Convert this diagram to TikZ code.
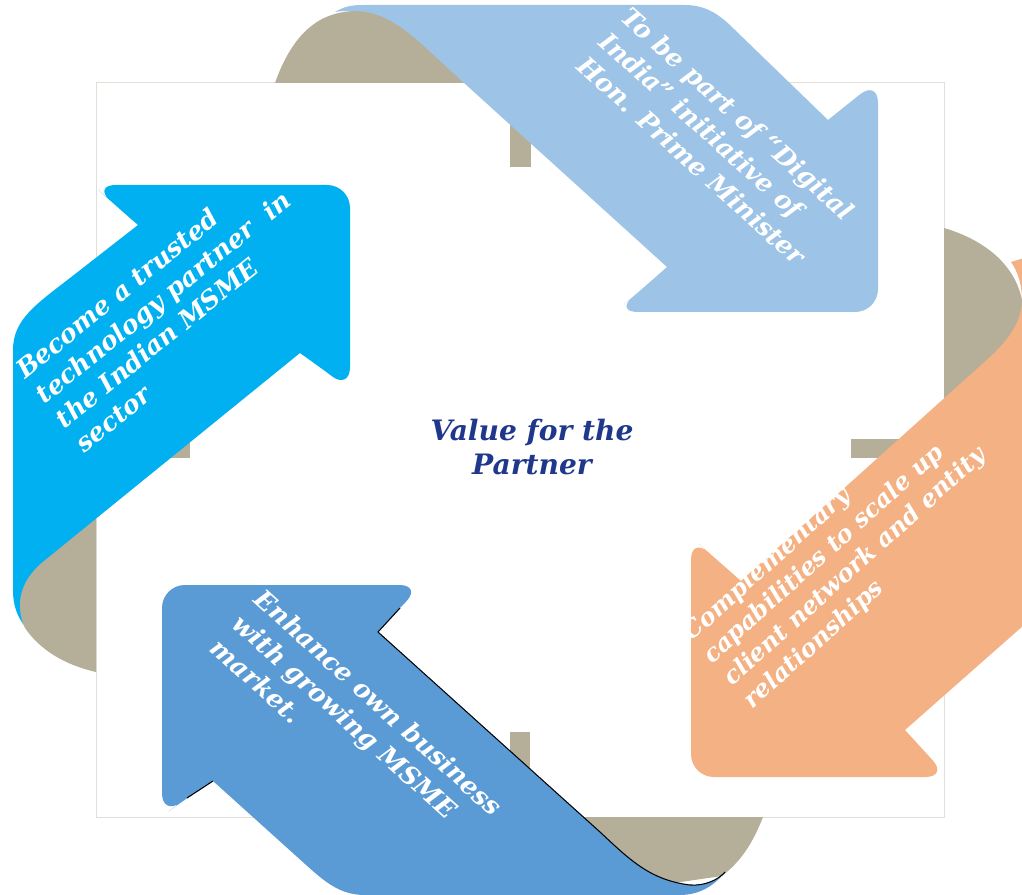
\documentclass[tikz,border=0pt]{standalone}
\usepackage{fontspec}
\setmainfont{DejaVu Serif}
\usepackage{xcolor}
\usepackage{tikz}
\usetikzlibrary{positioning}

\definecolor{ribbonback}{RGB}{181,174,152}
\definecolor{skyblue}{RGB}{157,195,230}
\definecolor{peach}{RGB}{244,177,131}
\definecolor{midblue}{RGB}{91,155,213}
\definecolor{cyanblue}{RGB}{0,176,240}
\definecolor{titleblue}{RGB}{31,56,140}
\definecolor{frameline}{RGB}{226,223,216}

\begin{document}
\begin{tikzpicture}[
    x=0.02cm, y=-0.02cm,
    back/.style={fill=ribbonback},
    ribbontext/.style={text=white, align=left, inner sep=0pt, font=\fontsize{14.5}{18.7}\selectfont\bfseries\itshape},
    title/.style={text=titleblue, align=center, inner sep=0pt, font=\fontsize{16}{19.5}\selectfont\bfseries\itshape},
    rim/.style={draw=black, line width=0.6pt}
]
    \useasboundingbox (0,0) rectangle (1022,895);
    \clip (0,0) rectangle (1022,895);

    % Frame
    \draw[frameline, fill=white, line width=0.5pt] (96,82) rectangle (944,817);

    % Back side of the ribbons
    \fill[back] (275,83) .. controls (292,35) and (318,11) .. (357,11) .. controls (400,10) and (440,40) .. (475,78) -- (480,83) -- cycle;
    \fill[back] (510,82) rectangle (531,167);
    \fill[back] (944,228) .. controls (985,240) and (1015,265) .. (1022,300) -- (1022,330) -- (944,410) -- cycle;
    \fill[back] (851,439) rectangle (944,458);
    \fill[back] (575,817) -- (763,817) .. controls (752,845) and (740,862) .. (722,876) -- (660,885) -- (560,817) -- cycle;
    \fill[back] (510,732) rectangle (530,817);
    \fill[back] (96,500) -- (96,672) .. controls (65,665) and (40,650) .. (25,628) .. controls (15,610) and (18,585) .. (35,565) -- cycle;
    \fill[back] (96,439) rectangle (190,458);

    % Top arrow
    \fill[skyblue] (335,12) .. controls (345,6) and (352,5) .. (365,5) -- (685,5)
        .. controls (708,5) and (722,17) .. (735,30) -- (828,120) -- (853,100)
        [rounded corners=13pt] -- (878,80) -- (878,312) -- (615,312) -- (641,290)
        [sharp corners] -- (667,267) -- (463,82) -- (425,47)
        .. controls (400,24) and (380,12) .. (357,11) .. controls (348,11) and (340,11) .. (335,12) -- cycle;

    % Right arrow
    \fill[peach] (1011,262) -- (1024,258) -- (1024,625) -- (905,730) -- (926,753)
        [rounded corners=13pt] -- (948,777) -- (691,777) -- (691,537) -- (716,559)
        [sharp corners] -- (741,581) -- (990,357)
        .. controls (1012,337) and (1022,318) .. (1022,300)
        .. controls (1022,285) and (1018,272) .. (1011,262) -- cycle;

    % Bottom arrow
    \fill[midblue] (725,872) .. controls (718,880) and (705,886) .. (690,885)
        .. controls (650,880) and (630,860) .. (600,832) -- (378,632) -- (400,608)
        [rounded corners=13pt] -- (422,585) -- (162,585) -- (162,816) -- (187,798)
        [sharp corners] -- (213,781) -- (305,864) .. controls (325,882) and (340,895) .. (365,895)
        -- (680,895) .. controls (700,895) and (715,885) .. (725,872) -- cycle;
    \draw[rim] (400,608) -- (378,632) -- (600,832) .. controls (630,860) and (650,880) .. (690,885) .. controls (705,886) and (718,880) .. (725,872);
    \draw[rim] (213,781) -- (187,798);

    % Left arrow
    \fill[cyanblue] (13,350) -- (13,590) .. controls (13,605) and (17,615) .. (23,624)
        .. controls (15,600) and (22,578) .. (45,560) -- (300,353) -- (325,371)
        [rounded corners=13pt] -- (350,390) -- (350,185) -- (93,185) -- (115,205)
        [sharp corners] -- (138,225) -- (70,278) .. controls (35,305) and (13,320) .. (13,350) -- cycle;

    % Texts
    \node[ribbontext, rotate=-42] (digital) at (716,138) {To be part of “Digital\\India” initiative of\\Hon. Prime Minister};
    \node[ribbontext, rotate=42, font=\fontsize{13.8}{17.2}\selectfont\bfseries\itshape] (scaleup) at (845,556) {Complementary\\capabilities to scale up\\client network and entity\\relationships};
    \node[ribbontext, rotate=-42] (business) at (357,727) {Enhance own business\\with growing MSME\\market.};
    \node[ribbontext, rotate=39, font=\fontsize{14.5}{18}\selectfont\bfseries\itshape] (trusted) at (173,309) {Become a trusted\\technology partner~ in\\the Indian MSME\\sector};
    \node[title] (value) at (532,447) {Value for the\\Partner};
\end{tikzpicture}
\end{document}
